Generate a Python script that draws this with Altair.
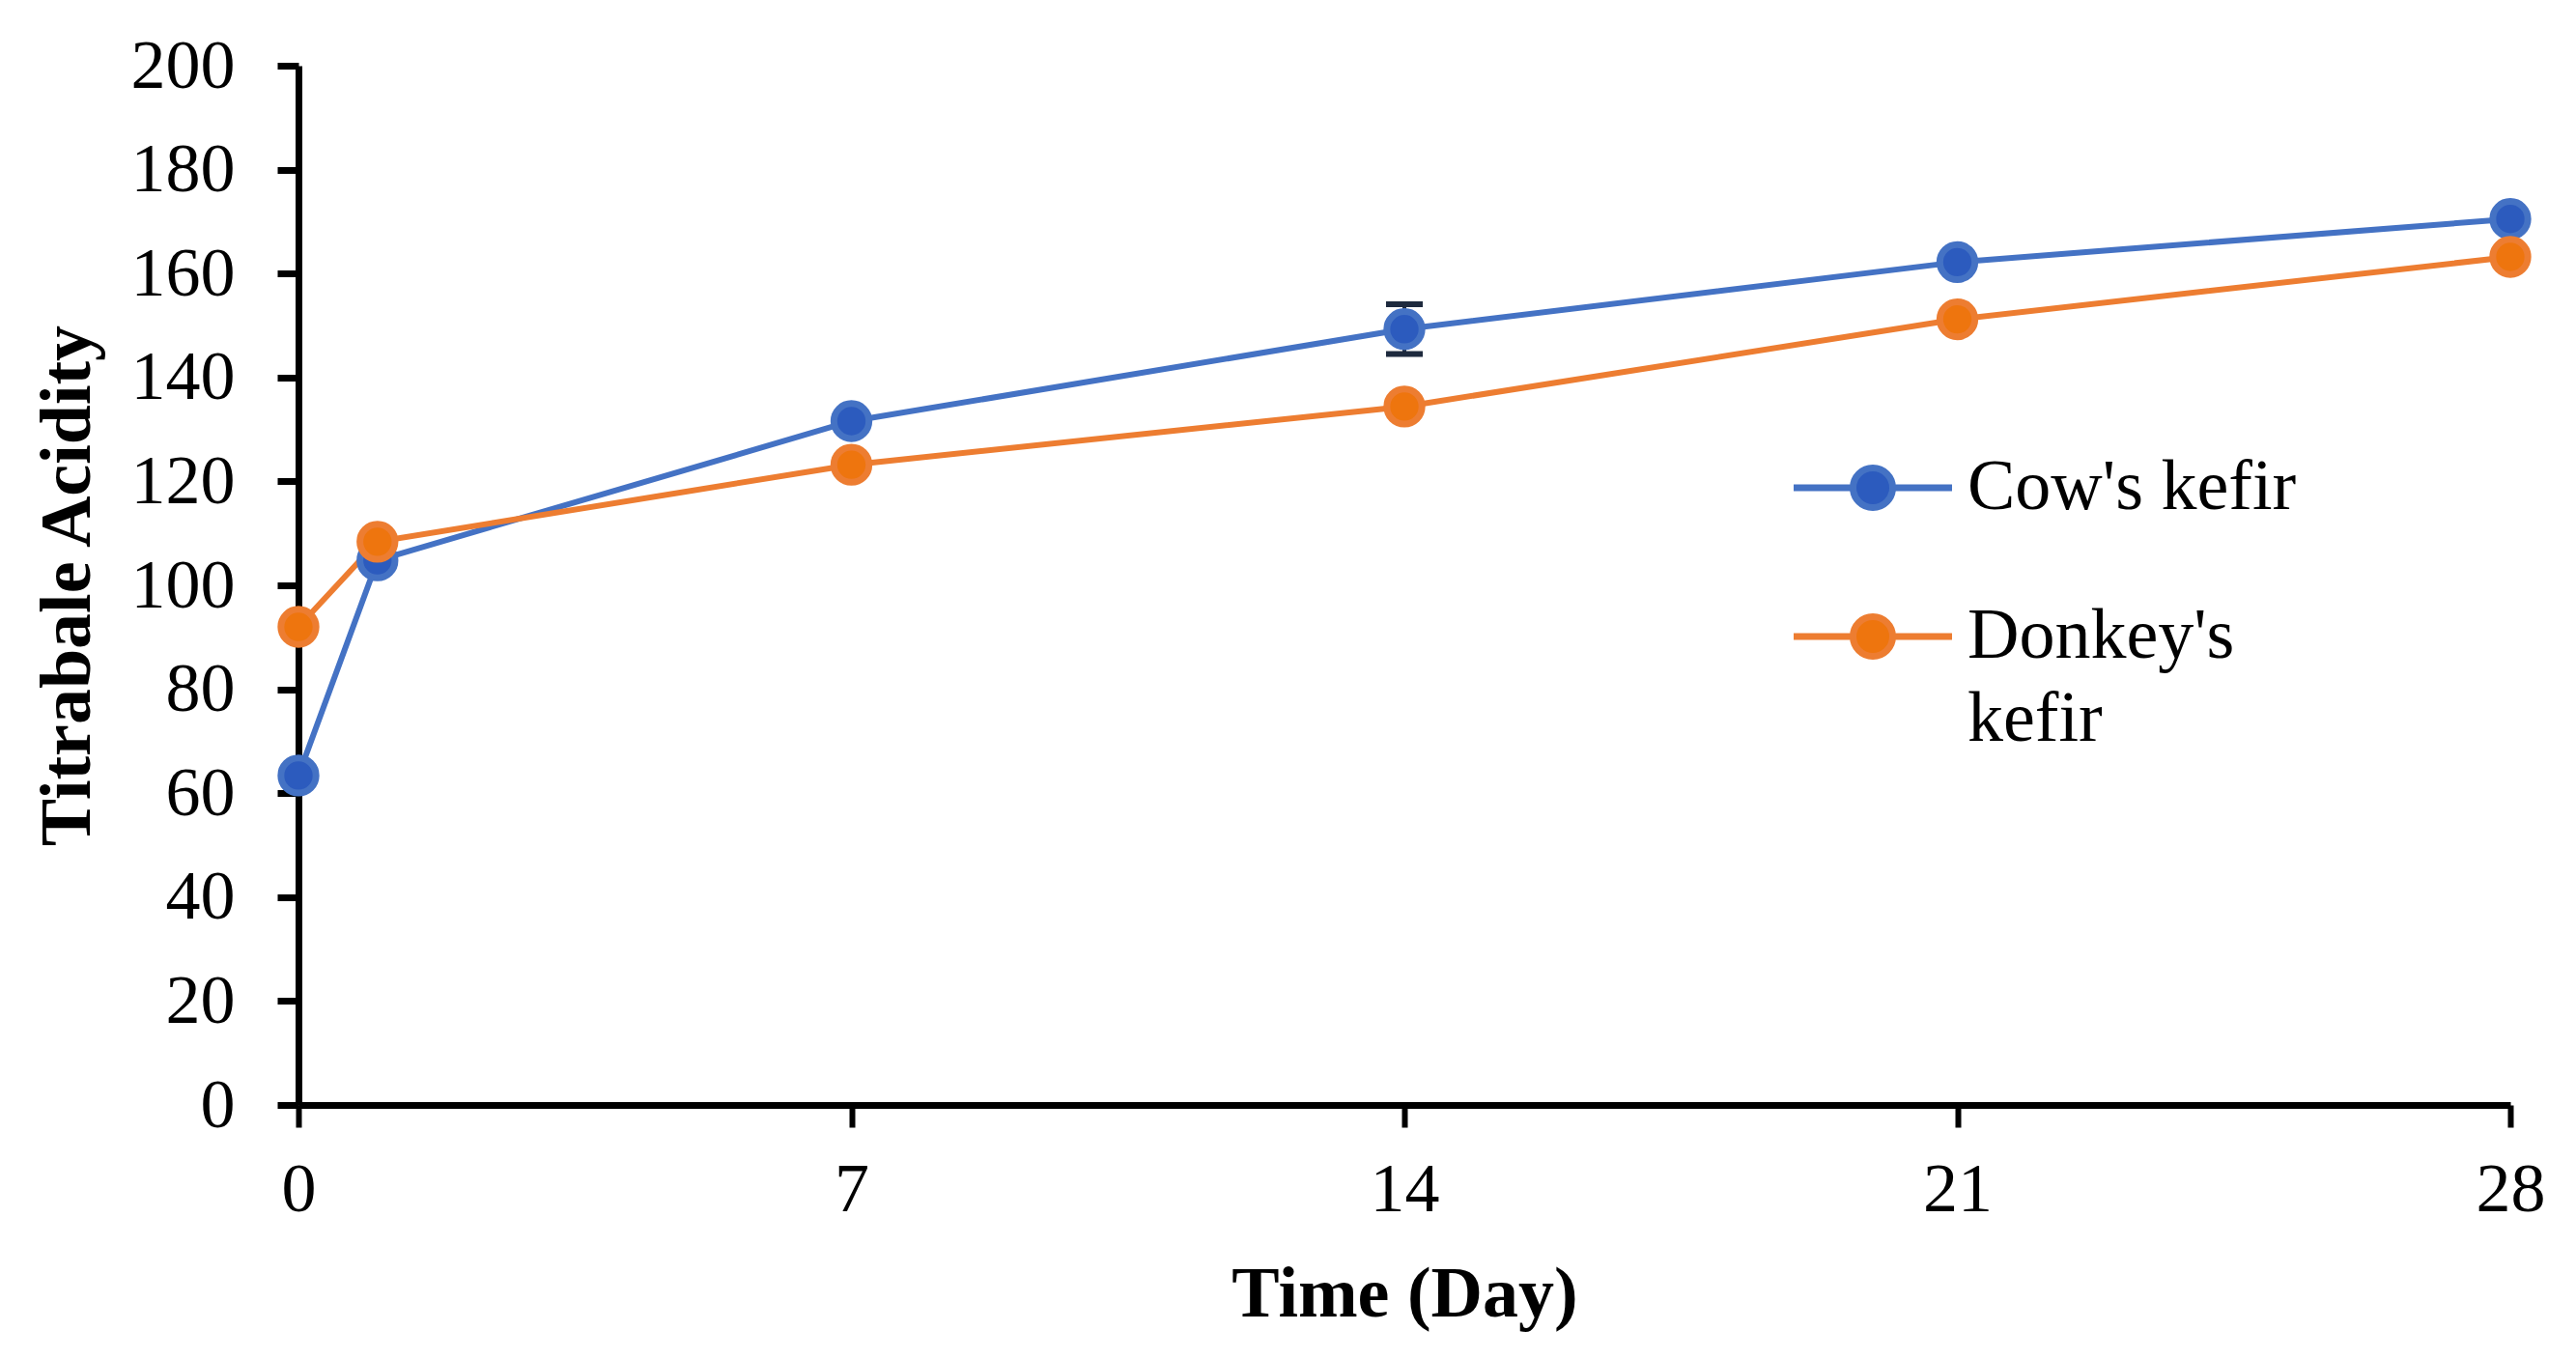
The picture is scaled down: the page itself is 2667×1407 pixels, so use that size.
import altair as alt
import pandas as pd

# ---- data ----
days = [0, 1, 7, 14, 21, 28]
cow = [63.4, 104.8, 131.6, 149.3, 162.2, 170.5]
donkey = [92.0, 108.4, 123.2, 134.4, 151.2, 163.2]
cow_err = [1.0, 1.2, 1.0, 4.8, 1.0, 1.0]
donkey_err = [1.0, 1.0, 1.0, 1.0, 1.2, 1.0]
series_names = ["Cow's kefir", "Donkey's kefir"]
x_ticks = [0, 7, 14, 21, 28]
y_ticks = [0, 20, 40, 60, 80, 100, 120, 140, 160, 180, 200]
line_colors = ["#4472C4", "#ED7D31"]
fill_colors = ["#2C5BBE", "#EE750E"]

rows = []
for name, vals, errs in [(series_names[0], cow, cow_err), (series_names[1], donkey, donkey_err)]:
    for d, v, e in zip(days, vals, errs):
        rows.append({"day": d, "value": v, "lo": v - e, "hi": v + e, "series": name})
df = pd.DataFrame(rows)

FONT = "Liberation Serif"

x_axis = alt.Axis(
    values=x_ticks, title="Time (Day)", grid=False,
    domainColor="black", domainWidth=7, tickColor="black", tickWidth=6, tickSize=23,
    labelFont=FONT, labelFontSize=72, labelColor="black", labelPadding=29,
    labelFlush=False, labelOverlap=False,
    titleFont=FONT, titleFontSize=74, titleFontWeight="bold", titleColor="black",
    titleX=1145, titleY=218, titleBaseline="alphabetic", titleAlign="center",
)
y_axis = alt.Axis(
    values=y_ticks, title="Titrabale Acidity", grid=False,
    domainColor="black", domainWidth=7, tickColor="black", tickWidth=7, tickSize=22,
    labelFont=FONT, labelFontSize=72, labelColor="black", labelPadding=44,
    labelOverlap=False,
    titleFont=FONT, titleFontSize=74, titleFontWeight="bold", titleColor="black",
    titleX=-217, titleY=538, titleAngle=270, titleBaseline="alphabetic", titleAlign="center",
)
x_scale = alt.Scale(domain=[0, 28], nice=False, zero=False)
y_scale = alt.Scale(domain=[0, 200], nice=False)

sym_path = ("M-2.733,0L-0.683,0M0.683,0L2.733,0"
            "M-0.683,0A0.683,0.683,0,1,0,0.683,0A0.683,0.683,0,1,0,-0.683,0Z")
legend = alt.Legend(
    title=None, orient="none", legendX=1593, legendY=400, padding=0,
    symbolType=sym_path, symbolSize=3600, symbolStrokeWidth=7, symbolOpacity=1,
    labelFont=FONT, labelFontSize=74, labelColor="black", labelOffset=61,
    labelLimit=1000, rowPadding=80, labelBaseline="middle",
    labelExpr="indexof(datum.label, 'Donkey') == 0 ? split(datum.label, ' ') : datum.label",
)
stroke_scale = alt.Scale(domain=series_names, range=line_colors)
fill_scale = alt.Scale(domain=series_names, range=fill_colors)

base = alt.Chart(df)
X = alt.X("day:Q", scale=x_scale, axis=x_axis)

err_rule = base.mark_rule(color="#1E2A3E", strokeWidth=4).encode(
    x=X, y=alt.Y("lo:Q", scale=y_scale, axis=y_axis), y2="hi:Q")
cap_lo = base.mark_point(shape="M-1,0L1,0", size=1444, strokeWidth=6, color="#1E2A3E",
                         opacity=1).encode(x=X, y=alt.Y("lo:Q", scale=y_scale, axis=y_axis))
cap_hi = base.mark_point(shape="M-1,0L1,0", size=1444, strokeWidth=6, color="#1E2A3E",
                         opacity=1).encode(x=X, y=alt.Y("hi:Q", scale=y_scale, axis=y_axis))
lines = base.mark_line(strokeWidth=6).encode(
    x=X, y=alt.Y("value:Q", scale=y_scale, axis=y_axis),
    stroke=alt.Stroke("series:N", scale=stroke_scale, legend=legend),
    detail="series:N")
points = base.mark_point(shape="circle", filled=True, size=1320, strokeWidth=7, opacity=1).encode(
    x=X, y=alt.Y("value:Q", scale=y_scale, axis=y_axis),
    fill=alt.Fill("series:N", scale=fill_scale, legend=legend),
    stroke=alt.Stroke("series:N", scale=stroke_scale, legend=legend))

chart = alt.layer(err_rule, lines, cap_lo, cap_hi, points).properties(
    width=2290, height=1076,
    padding={"left": 301, "top": 60, "right": 60, "bottom": 250},
    autosize=alt.AutoSizeParams(type="none"),
    background="white",
).configure(
    style={"guide-label": {"lineHeight": 86}},
    view=alt.ViewConfig(stroke=None),
)

chart.save("out.html", embed_options={"renderer": "svg", "actions": False})
